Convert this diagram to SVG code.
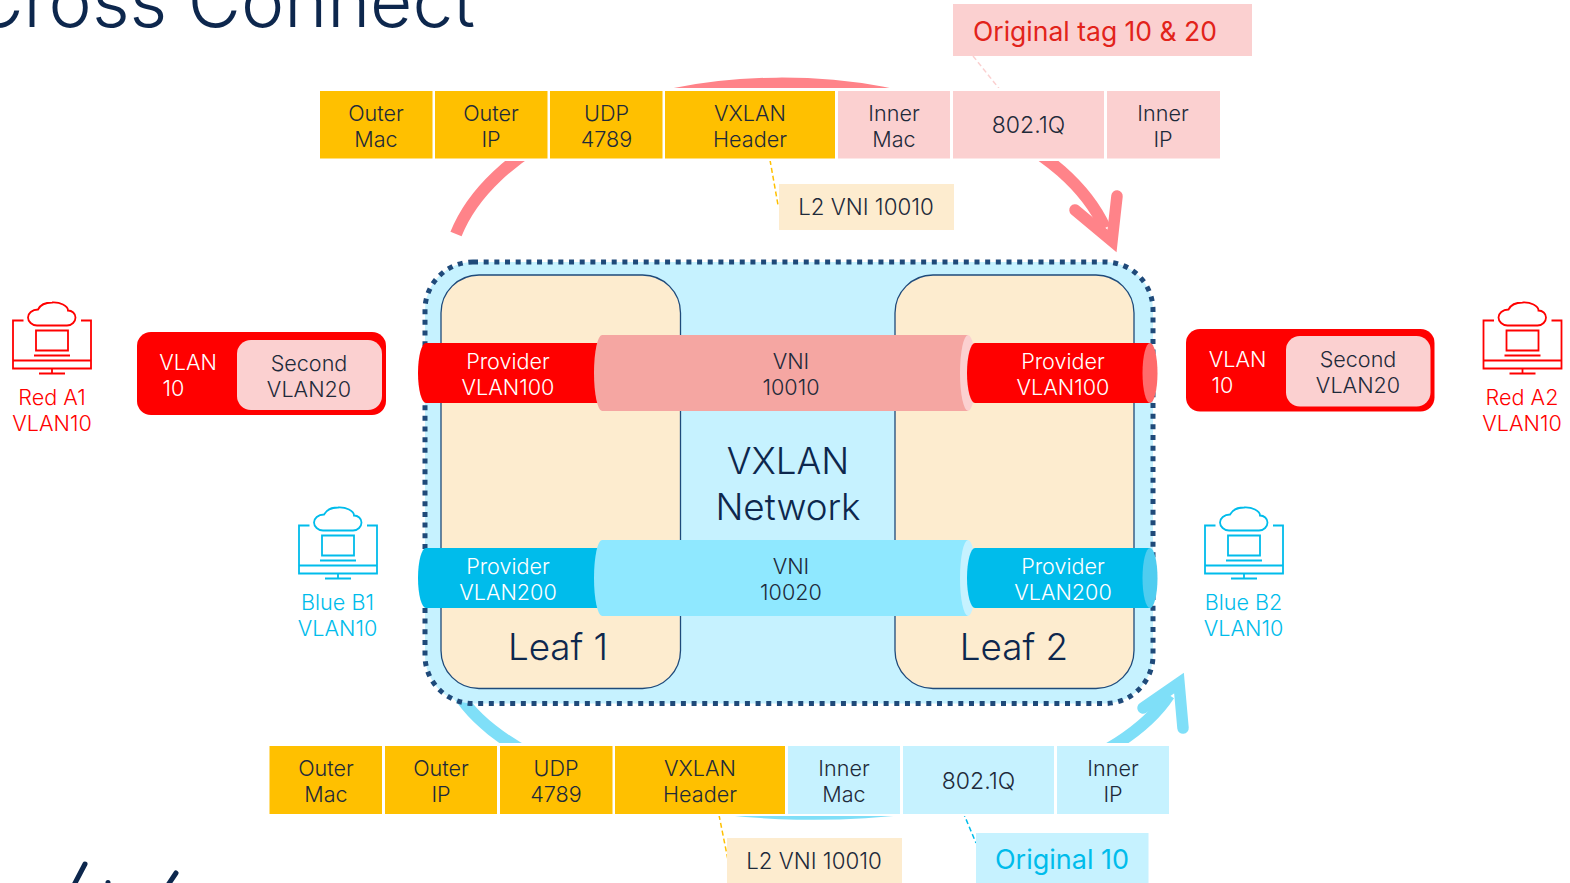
<svg xmlns="http://www.w3.org/2000/svg" width="1570" height="883" viewBox="0 0 1570 883">
<style>
text{font-family:Inter,"Liberation Sans",sans-serif;font-weight:300;font-size:21.600px;text-anchor:middle;fill:#1e2a3a}
.w{fill:#fff}.r{fill:#ff0000}.b{fill:#00bceb}.n{fill:#0d274d}
.big{font-size:36.800px;fill:#0d274d}
.hl{font-size:26.500px;font-weight:400}
.q{font-size:23px}.l2{font-size:22.300px}
.y{fill:#ffc000}.pk{fill:#fbd0d0}.cy{fill:#c6f2ff}.cream{fill:#fdeccf}
.arcR{fill:none;stroke:#ff8389;stroke-width:12}
.arcB{fill:none;stroke:#7fdff8;stroke-width:12}
.head{stroke-linecap:round;stroke-linejoin:miter;stroke-miterlimit:10;stroke-width:11.500px}
.ic{fill:none;stroke-width:1.800}
</style>
<defs>
<g id="pc">
<path d="M23.500 320H13V368H91V320H81M13 360H91M52 368V373M39 373H65M36 330H68V350H36ZM34 355H70"/>
<path d="M37 325H67C72 325 75.500 321 75.500 317C75.500 313 72 310 68 310C68 305 60 301.500 52 302C45 302 40 305 38 309C32 309 28 313 28 317C28 321 32 325 37 325Z"/>
</g>
</defs>
<g id="title"><text x="475" y="27" style="font-size:73px;text-anchor:end" class="n">Cross Connect</text></g>
<g id="connectors">
<path class="arcR" d="M456 234A334.500 194.500 0 0 1 1105 228"/>
<path class="arcR head" d="M1075 210L1112 241L1117 196"/>
<path class="arcB" d="M451 680A369.500 164.500 0 0 0 1169 695"/>
<path class="arcB head" d="M1143 708L1179 683L1183 728"/>
<path d="M973 56L1001 91" fill="none" stroke="#fbd0d0" stroke-width="1.500" stroke-dasharray="5 3"/>
<path d="M770 160L778 205" fill="none" stroke="#ffc000" stroke-width="1.500" stroke-dasharray="5 3"/>
<path d="M719 815L728 860" fill="none" stroke="#ffc000" stroke-width="1.500" stroke-dasharray="5 3"/>
<path d="M963 812L976 843" fill="none" stroke="#00bceb" stroke-width="1.500" stroke-dasharray="5 3"/>
</g>
<g id="vxlan-network">
<rect x="425" y="262" width="728" height="441.500" rx="48" fill="#c6f2ff" stroke="#1f4a7a" stroke-width="5" stroke-dasharray="5 5.670"/>
<text class="big" x="788" y="474">VXLAN</text><text class="big" x="788" y="520">Network</text>
</g>
<g id="leaf-1"><rect class="cream" x="441" y="275" width="239.500" height="413.500" rx="38" stroke="#1f4a7a" stroke-width="1.300"/><text class="big" x="558" y="660">Leaf 1</text></g>
<g id="leaf-2"><rect class="cream" x="895" y="275" width="239" height="413.500" rx="38" stroke="#1f4a7a" stroke-width="1.300"/><text class="big" x="1014" y="660">Leaf 2</text></g>
<g id="provider-red-1"><path class="r" d="M426 343H610V403H426A8 30 0 0 1 426 343Z"/><text class="w" x="508" y="369">Provider</text><text class="w" x="508" y="395">VLAN100</text></g>
<g id="provider-blue-1"><path class="b" d="M426 548H610V608H426A8 30 0 0 1 426 548Z"/><text class="w" x="508" y="574">Provider</text><text class="w" x="508" y="600">VLAN200</text></g>
<g id="vni-red">
<path d="M602 335H968V411H602A8 38 0 0 1 602 335Z" fill="#f5a6a2"/>
<path d="M968 335A8 38 0 0 1 968 411A8 38 0 0 1 968 335Z" fill="#fbd0d0"/>
<text x="791" y="369">VNI</text><text x="791" y="395">10010</text></g>
<g id="vni-blue">
<path d="M602 540H968V616H602A8 38 0 0 1 602 540Z" fill="#8fe8ff"/>
<path d="M968 540A8 38 0 0 1 968 616A8 38 0 0 1 968 540Z" fill="#c6f2ff"/>
<text x="791" y="574">VNI</text><text x="791" y="600">10020</text></g>
<g id="provider-red-2"><path class="r" d="M975 343H1150V403H975A8 30 0 0 1 975 343Z"/><ellipse cx="1150" cy="373" rx="7.500" ry="30" fill="#ff6b6b"/><text class="w" x="1063" y="369">Provider</text><text class="w" x="1063" y="395">VLAN100</text></g>
<g id="provider-blue-2"><path class="b" d="M975 548H1150V608H975A8 30 0 0 1 975 548Z"/><ellipse cx="1150" cy="578" rx="7.500" ry="30" fill="#4fcdf0"/><text class="w" x="1063" y="574">Provider</text><text class="w" x="1063" y="600">VLAN200</text></g>
<g id="packet-top">
<rect class="w" x="318" y="88" width="903" height="73"/>
<rect class="y" x="320" y="91" width="112.500" height="67.500"/><text x="376" y="121">Outer</text><text x="376" y="147">Mac</text>
<rect class="y" x="435" y="91" width="112.500" height="67.500"/><text x="491" y="121">Outer</text><text x="491" y="147">IP</text>
<rect class="y" x="550" y="91" width="112.500" height="67.500"/><text x="606.500" y="121">UDP</text><text x="606.500" y="147">4789</text>
<rect class="y" x="665" y="91" width="170" height="67.500"/><text x="750" y="121">VXLAN</text><text x="750" y="147">Header</text>
<rect class="pk" x="838" y="91" width="112" height="67.500"/><text x="894" y="121">Inner</text><text x="894" y="147">Mac</text>
<rect class="pk" x="953" y="91" width="151" height="67.500"/><text class="q" x="1028.500" y="133">802.1Q</text>
<rect class="pk" x="1107" y="91" width="113" height="67.500"/><text x="1163" y="121">Inner</text><text x="1163" y="147">IP</text>
</g>
<g id="packet-bottom">
<rect class="w" x="267" y="743" width="904" height="73"/>
<rect class="y" x="269.500" y="746" width="112.500" height="68"/><text x="326" y="776">Outer</text><text x="326" y="802">Mac</text>
<rect class="y" x="385" y="746" width="112" height="68"/><text x="441" y="776">Outer</text><text x="441" y="802">IP</text>
<rect class="y" x="500" y="746" width="112.500" height="68"/><text x="556" y="776">UDP</text><text x="556" y="802">4789</text>
<rect class="y" x="615" y="746" width="170" height="68"/><text x="700" y="776">VXLAN</text><text x="700" y="802">Header</text>
<rect class="cy" x="788" y="746" width="112" height="68"/><text x="844" y="776">Inner</text><text x="844" y="802">Mac</text>
<rect class="cy" x="903" y="746" width="151" height="68"/><text class="q" x="978.500" y="789">802.1Q</text>
<rect class="cy" x="1057" y="746" width="112" height="68"/><text x="1113" y="776">Inner</text><text x="1113" y="802">IP</text>
</g>
<g id="note-original-20"><rect class="pk" x="953" y="4" width="299" height="52"/><text class="hl" x="1095" y="41" style="fill:#e2231a">Original tag 10 &amp; 20</text></g>
<g id="note-vni-top"><rect class="cream" x="779" y="184" width="175" height="46"/><text class="l2" x="866" y="215">L2 VNI 10010</text></g>
<g id="note-vni-bottom"><rect class="cream" x="727" y="838" width="175" height="45"/><text class="l2" x="814" y="869">L2 VNI 10010</text></g>
<g id="note-original-10"><rect class="cy" x="976" y="833" width="172.500" height="50"/><text class="hl b" style="font-size:27px" x="1062" y="869">Original 10</text></g>
<g id="tag-left"><rect class="r" x="137" y="332" width="249" height="83" rx="14"/><rect class="pk" x="237" y="340" width="145" height="70" rx="14"/><text class="w" x="188" y="370">VLAN</text><text class="w" x="173.500" y="396">10</text><text x="309" y="371">Second</text><text x="309" y="397">VLAN20</text></g>
<g id="tag-right"><rect class="r" x="1186" y="329" width="248.500" height="82.500" rx="14"/><rect class="pk" x="1286" y="336" width="144.500" height="70.500" rx="14"/><text class="w" x="1237.500" y="367">VLAN</text><text class="w" x="1222.500" y="393">10</text><text x="1358" y="367">Second</text><text x="1358" y="393">VLAN20</text></g>
<g id="red-a1"><use href="#pc" y="0.500" class="ic" stroke="#ff0000"/><text class="r" x="52" y="405">Red A1</text><text class="r" x="52" y="431">VLAN10</text></g>
<g id="red-a2"><use href="#pc" x="1470.500" y="0.500" class="ic" stroke="#ff0000"/><text class="r" x="1522" y="405">Red A2</text><text class="r" x="1522" y="431">VLAN10</text></g>
<g id="blue-b1"><use href="#pc" x="286" y="205.500" class="ic" stroke="#00bceb"/><text class="b" x="337.500" y="610">Blue B1</text><text class="b" x="337.500" y="636">VLAN10</text></g>
<g id="blue-b2"><use href="#pc" x="1192" y="205.500" class="ic" stroke="#00bceb"/><text class="b" x="1243.500" y="610">Blue B2</text><text class="b" x="1243.500" y="636">VLAN10</text></g>
<g id="logo-fragment"><path d="M85 864L74 885M176 873L168 885M108 882.500V884" fill="none" stroke="#0d274d" stroke-width="5" stroke-linecap="round"/></g>
</svg>
